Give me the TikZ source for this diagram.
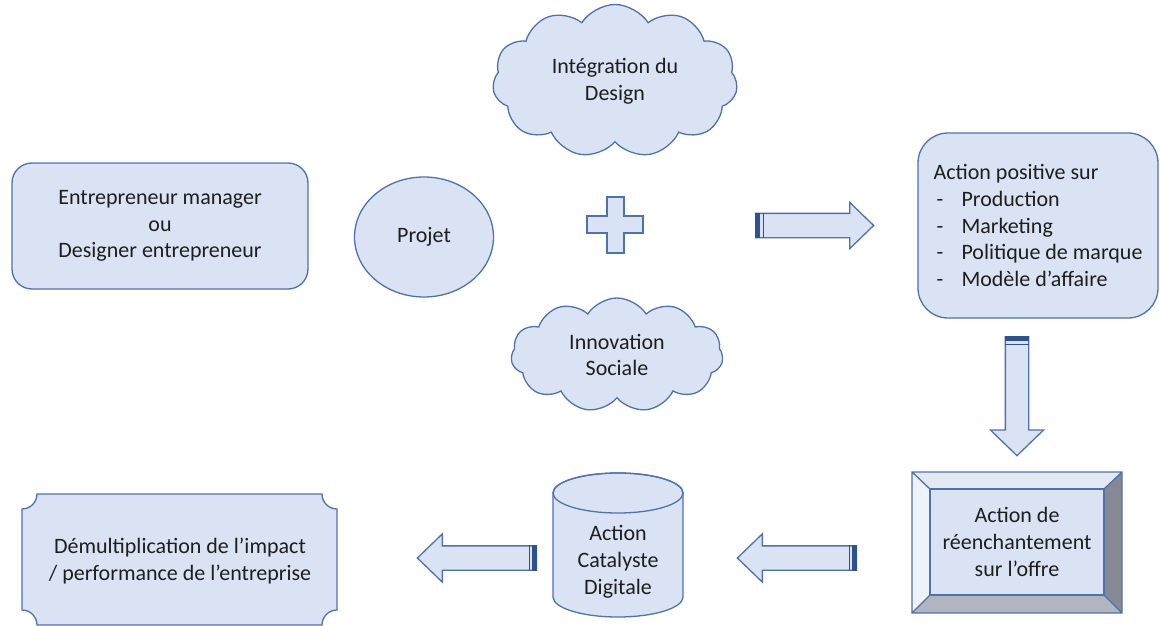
\documentclass[tikz,border=0pt]{standalone}
\usepackage{fontspec}
\setmainfont{Carlito}
\usetikzlibrary{shapes.geometric,shapes.symbols,shapes.arrows,calc}
\definecolor{boxfill}{HTML}{DAE3F3}
\definecolor{boxline}{HTML}{4F72AD}
\definecolor{bandcol}{HTML}{2F528F}
\definecolor{ink}{HTML}{1E1E1E}
\definecolor{bevtop}{HTML}{E3E9F3}
\definecolor{bevleft}{HTML}{EEF2F9}
\definecolor{bevright}{HTML}{848993}
\definecolor{bevbottom}{HTML}{B0B5BF}
\tikzset{
  txt/.style={font=\fontsize{22}{26.8}\selectfont, text=ink, align=center},
  shape line/.style={draw=boxline, line width=1.3pt, fill=boxfill},
  blockarrow/.style={shape line, single arrow, inner sep=11.5pt, anchor=tail,
    single arrow head extend=11pt, single arrow tip angle=88,
    minimum height=118pt},
  tailband/.style={fill=bandcol},
  tailline/.style={draw=bandcol, line width=1pt}
}
\newcommand{\dash}{\makebox[28pt][l]{\hspace{3pt}-}}
\begin{document}
\begin{tikzpicture}[x=1pt, y=-1pt]
  \useasboundingbox (0,0) rectangle (1160,626);
  % first row
  \node[txt, shape line, rounded corners=20pt, minimum width=296pt, minimum height=126pt] (who) at (160,226) {Entrepreneur manager\\ou\\Designer entrepreneur};
  \node[txt, shape line, ellipse, minimum width=139pt, minimum height=120pt, inner sep=0pt] (proj) at (424,237) {Projet};
  \draw[shape line] (607,197) -| (624,216) -| (643,233) -| (624,253) -| (607,233) -| (587,216) -| cycle;
  \node[txt, shape line, cloud, cloud puffs=11, cloud puff arc=115, aspect=1.6, inner sep=0pt, minimum width=245pt, minimum height=153pt] (design) at (615,81) {Intégration du\\Design};
  \node[txt, shape line, cloud, cloud puffs=11, cloud puff arc=115, aspect=1.9, inner sep=0pt, minimum width=212pt, minimum height=114pt] (social) at (617,355) {Innovation\\Sociale};
  \node[blockarrow] (toaction) at (755,225.5) {};
  \fill[tailband] (toaction.before tail) rectangle ($(toaction.after tail)+(5,0)$);
  \draw[tailline] ($(toaction.before tail)+(8,0)$) -- ($(toaction.after tail)+(8,0)$);
  \node[txt, shape line, rounded corners=30pt, minimum width=240pt, minimum height=185pt, align=left] (action) at (1038,225.5)
    {Action positive sur\\\dash Production\\\dash Marketing\\\dash Politique de marque\\\dash Modèle d’affaire};
  % down
  \node[blockarrow, shape border rotate=270, inner sep=11pt, single arrow head extend=15pt, single arrow tip angle=92, minimum height=119pt] (todown) at (1017,336) {};
  \fill[tailband] (todown.before tail) rectangle ($(todown.after tail)+(0,5)$);
  \draw[tailline] ($(todown.before tail)+(0,8)$) -- ($(todown.after tail)+(0,8)$);
  % bevel
  \fill[bevtop] (912,472) -- (1122,472) -- (1104,489) -- (930,489) -- cycle;
  \fill[bevleft] (912,472) -- (930,489) -- (930,595) -- (912,613) -- cycle;
  \fill[bevright] (1122,472) -- (1122,613) -- (1104,595) -- (1104,489) -- cycle;
  \fill[bevbottom] (912,613) -- (1122,613) -- (1104,595) -- (930,595) -- cycle;
  \draw[shape line] (930,489) rectangle (1104,595);
  \draw[draw=boxline, line width=1.3pt] (912,472) rectangle (1122,613)
    (912,472) -- (930,489) (1122,472) -- (1104,489) (1122,613) -- (1104,595) (912,613) -- (930,595);
  \node[txt] (offre) at (1017,542) {Action de\\réenchantement\\sur l’offre};
  % bottom row
  \node[blockarrow, shape border rotate=180, single arrow head extend=12pt, minimum height=119pt] (tocyl) at (857,558) {};
  \fill[tailband] (tocyl.before tail) rectangle ($(tocyl.after tail)+(-5,0)$);
  \draw[tailline] ($(tocyl.before tail)+(-8,0)$) -- ($(tocyl.after tail)+(-8,0)$);
  \draw[shape line] (553,493) -- (553,597) arc[start angle=180, end angle=0, x radius=65, y radius=20]
    -- (683,493) arc[start angle=0, end angle=-180, x radius=65, y radius=20] -- cycle;
  \draw[draw=boxline, line width=1.3pt] (618,493) ellipse[x radius=65, y radius=20];
  \node[txt] (digital) at (618,562) {Action\\Catalyste\\Digitale};
  \node[blockarrow, shape border rotate=180, single arrow head extend=12pt, minimum height=119pt] (toimpact) at (537,558) {};
  \fill[tailband] (toimpact.before tail) rectangle ($(toimpact.after tail)+(-5,0)$);
  \draw[tailline] ($(toimpact.before tail)+(-8,0)$) -- ($(toimpact.after tail)+(-8,0)$);
  \draw[shape line] (37,494) -- (322,494) arc[start angle=180, end angle=90, radius=15]
    -- (337,610) arc[start angle=270, end angle=180, radius=15]
    -- (37,625) arc[start angle=0, end angle=-90, radius=15]
    -- (22,509) arc[start angle=90, end angle=0, radius=15] -- cycle;
  \node[txt] (impact) at (180,561) {Démultiplication de l’impact\\/ performance de l’entreprise};
\end{tikzpicture}
\end{document}
